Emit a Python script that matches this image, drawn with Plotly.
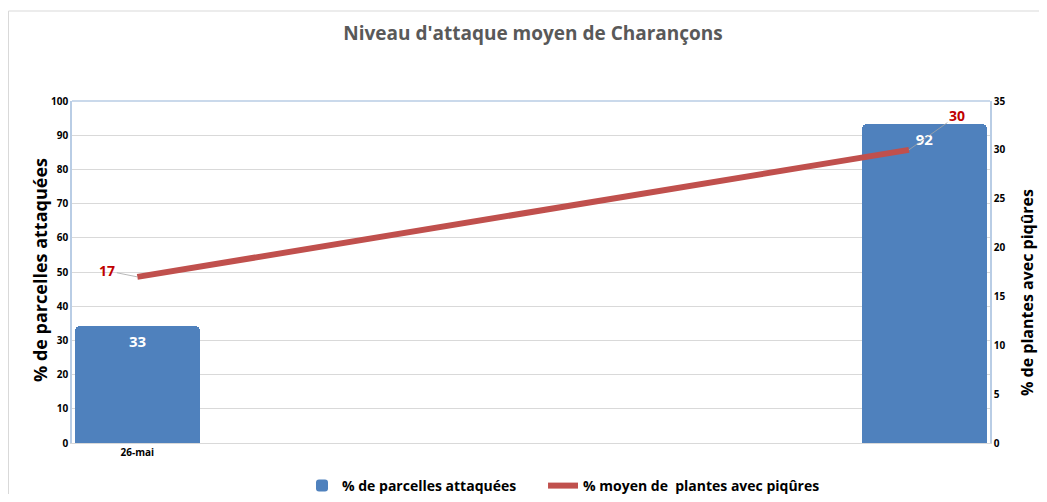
import plotly.graph_objects as go

# Data
categories_x = [0, 1]
category_labels = ["26-mai"]
bar_values = [34.3, 93.3]
bar_labels = ["33", "92"]
line_x = [0, 0.98]
line_values = [17, 30]
line_labels = ["17", "30"]

left_ticks = list(range(0, 101, 10))
right_ticks = list(range(0, 36, 5))

# page body has an 8px margin; figure coordinates below are window coords minus 8
W, H = 1031, 486
L, T = 64, 93
R = W - 982
B = H - 435
pw = W - L - R
ph = H - T - B

BLUE = "#4F81BD"
RED = "#C0504D"
FONT = "Open Sans"

fig = go.Figure()
fig.add_trace(go.Bar(
    x=categories_x, y=bar_values, width=0.159,
    name="<b>% de parcelles attaquées</b>&nbsp;&nbsp;&nbsp;&nbsp;&nbsp;&nbsp;",
    marker=dict(color=BLUE, line=dict(width=0), cornerradius=5),
    text=["<b>%s</b>" % t for t in bar_labels], textposition="inside", insidetextanchor="end",
    textfont=dict(color="white", size=15, family=FONT),
    showlegend=True,
))
fig.add_trace(go.Scatter(
    x=line_x, y=line_values, yaxis="y2", mode="lines",
    name="<b>% moyen de  plantes avec piqûres</b>",
    line=dict(color=RED, width=6),
))

# data labels for line with leader lines
offsets = [(-30, -6), (48, -34)]
for xv, yv, lab, (ax, ay) in zip(line_x, line_values, line_labels, offsets):
    fig.add_annotation(
        x=xv, y=yv, xref="x", yref="y2", text="<b>%s</b>" % lab,
        showarrow=True, arrowhead=0, arrowwidth=0.8, arrowcolor="#A6A6A6",
        ax=ax, ay=ay, font=dict(color="#C00000", size=14, family=FONT),
        xanchor="center", yanchor="middle",
    )

fig.update_layout(
    width=W, height=H,
    margin=dict(l=L, r=R, t=T, b=B, autoexpand=False),
    paper_bgcolor="white", plot_bgcolor="white",
    title=dict(text="<b>Niveau d'attaque moyen de Charançons</b>",
               x=525 / W, xanchor="center", y=1 - 25 / H, yanchor="middle",
               font=dict(family=FONT, size=19, color="#595959")),
    font=dict(family=FONT),
    xaxis=dict(range=[-0.083, 1.083], tickvals=[0], ticktext=["<b>%s</b>" % c for c in category_labels],
               tickfont=dict(size=10, color="black"), showgrid=False, automargin=False,
               showline=True, linecolor="#D9D9D9", linewidth=1, zeroline=False, ticks=""),
    yaxis=dict(range=[0, 100], tickvals=left_ticks, ticktext=["<b>%d</b>" % v for v in left_ticks],
               tickfont=dict(size=10, color="black"), showgrid=True, gridcolor="#D9D9D9",
               automargin=False,
               showline=True, linecolor="#B9CDE5", linewidth=1.5, zeroline=False, ticklen=0),
    yaxis2=dict(range=[0, 35], tickvals=right_ticks, ticktext=["<b>%d</b>" % v for v in right_ticks],
                overlaying="y", side="right", tickfont=dict(size=10, color="black"), automargin=False,
                showgrid=False, showline=True, linecolor="#B9CDE5", linewidth=1.5, zeroline=False),
    legend=dict(orientation="h", x=552 / W, xanchor="center", y=-(478 - 435) / ph, yanchor="middle",
                font=dict(size=14, color="black", family=FONT), itemwidth=30,
                traceorder="normal"),
    bargap=0,
)

# top border of plot area
fig.add_shape(type="line", xref="paper", yref="paper", x0=0, x1=1, y0=1, y1=1,
              line=dict(color="#B9CDE5", width=1.5))
# outer chart frame (Excel-like)
fig.add_shape(type="line", xref="paper", yref="paper",
              x0=-(L - 0.5) / pw, x1=(W - L) / pw, y0=1 + (T - 3) / ph, y1=1 + (T - 3) / ph,
              line=dict(color="#D9D9D9", width=1))
fig.add_shape(type="line", xref="paper", yref="paper",
              x0=-(L - 0.5) / pw, x1=-(L - 0.5) / pw, y0=1 + (T - 3) / ph, y1=-(B) / ph,
              line=dict(color="#D9D9D9", width=1))

# left axis title
fig.add_annotation(xref="paper", yref="paper", x=(32 - L) / pw, y=(H - B - 262) / ph,
                   text="<b>% de parcelles attaquées</b>", textangle=-90, showarrow=False,
                   font=dict(size=18, color="black", family=FONT), xanchor="center", yanchor="middle")
# right axis title
fig.add_annotation(xref="paper", yref="paper", x=(1019 - L) / pw, y=(H - B - 284) / ph,
                   text="<b>% de plantes avec piqûres</b>", textangle=-90, showarrow=False,
                   font=dict(size=16, color="black", family=FONT), xanchor="center", yanchor="middle")

fig.write_html("out.html")
